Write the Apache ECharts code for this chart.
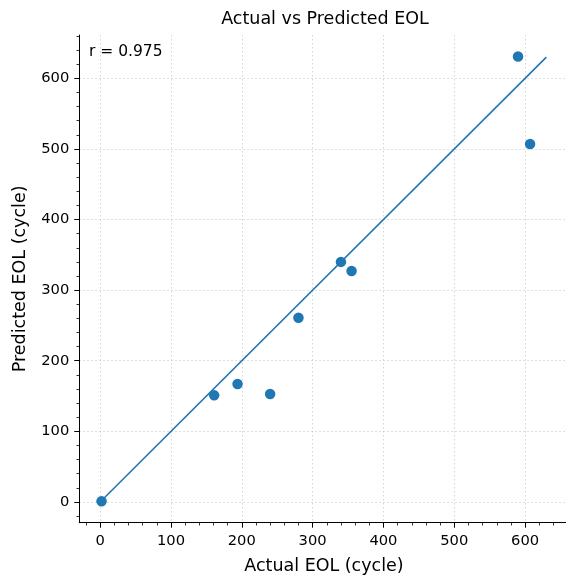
<!DOCTYPE html>
<html>
<head>
<meta charset="utf-8">
<script src="https://cdn.jsdelivr.net/npm/echarts@6/dist/echarts.min.js"></script>
<style>html,body{margin:0;padding:0;background:#fff;}#c{width:566px;height:577px;}</style>
</head>
<body>
<div id="c"></div>
<script>
const actualEOL = [2, 161, 194, 240, 280, 340, 355, 590, 607];
const predictedEOL = [1, 151, 167, 153, 261, 340, 327, 631, 507];
const identityLine = [0, 630];
const tickValues = [0, 100, 200, 300, 400, 500, 600];
const rText = 'r = 0.975';
const axisMin = -29.4, axisMax = 661.4;

const FONT = 'DejaVu Sans';
const BLUE = '#1f77b4';
const chart = echarts.init(document.getElementById('c'), null, {renderer: 'canvas'});

function axisCfg(name, isX) {
  return {
    type: 'value',
    min: axisMin, max: axisMax,
    name: name,
    nameLocation: 'middle',
    nameGap: isX ? 35 : 50,
    nameTextStyle: {fontFamily: FONT, fontSize: 17.5, color: '#000'},
    axisLine: {show: true, onZero: false, lineStyle: {color: '#000', width: 1}},
    axisTick: {show: true, inside: false, length: 5, customValues: tickValues, lineStyle: {color: '#000', width: 1}},
    minorTick: {show: true, splitNumber: 5, length: 2.8, lineStyle: {color: '#000', width: 0.8}},
    axisLabel: {show: true, customValues: tickValues, margin: isX ? 10.5 : 10, fontFamily: FONT, fontSize: 14.7, color: '#000'},
    splitLine: {show: true, lineStyle: {color: 'rgba(176,176,176,0.6)', type: [1.5, 2.5], width: 0.9}},
    minorSplitLine: {show: false}
  };
}

const scatterData = actualEOL.map((a, i) => [a, predictedEOL[i]]);

chart.setOption({
  animation: false,
  backgroundColor: '#fff',
  grid: {left: 79.3, top: 35, width: 489.3, height: 487.7, containLabel: false, outerBoundsMode: 'none'},
  xAxis: axisCfg('Actual EOL (cycle)', true),
  yAxis: axisCfg('Predicted EOL (cycle)', false),
  graphic: [
    {type: 'text', x: 325, y: 19.5, style: {text: 'Actual vs Predicted EOL', font: '17.5px "DejaVu Sans"', fill: '#000', textAlign: 'center', textVerticalAlign: 'middle'}},
    {type: 'text', x: 89, y: 51.5, style: {text: rText, font: '15.5px "DejaVu Sans"', fill: '#000', textAlign: 'left', textVerticalAlign: 'middle'}}
  ],
  series: [
    {
      type: 'line',
      data: identityLine.map(v => [v, v]),
      showSymbol: false,
      symbol: 'none',
      lineStyle: {color: BLUE, width: 1.6},
      z: 2
    },
    {
      type: 'scatter',
      data: scatterData,
      symbolSize: 10.5,
      itemStyle: {color: BLUE, opacity: 1},
      z: 3
    }
  ]
});
</script>
</body>
</html>
